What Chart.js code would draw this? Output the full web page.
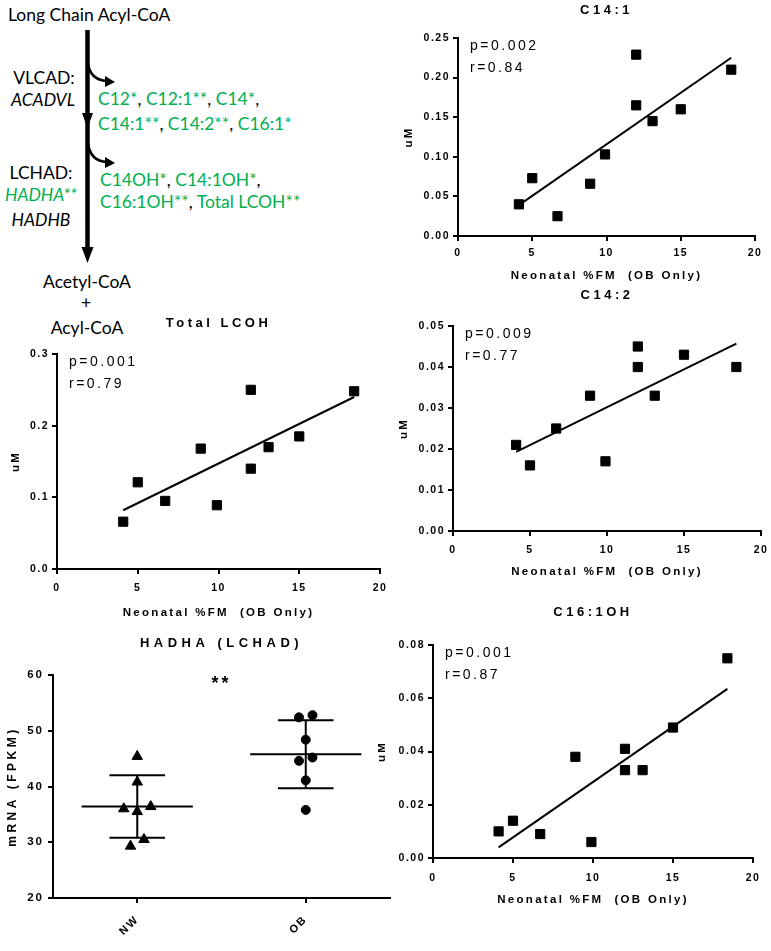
<!DOCTYPE html>
<html>
<head>
<meta charset="utf-8">
<script src="https://cdn.jsdelivr.net/npm/chart.js@4"></script>
<style>
  body { margin: 0; width: 771px; height: 951px; overflow: hidden; background: #fff; position: relative; font-family: Lato, sans-serif; }
  .t { position: absolute; font-size: 17.5px; line-height: 20px; white-space: nowrap; color: #000; }
  .c { text-align: center; }
  .i { font-style: italic; }
  .g { color: #00b050; }
  canvas { position: absolute; }
</style>
</head>
<body>

<svg width="200" height="300" style="position:absolute;left:0;top:0">
  <line x1="87.5" y1="30" x2="87.5" y2="250" stroke="#000" stroke-width="4.5"/>
  <polygon points="81.5,247 93.5,247 87.5,263" fill="#000"/>
  <polygon points="82,113 93,113 87.5,128" fill="#000"/>
  <path d="M88,63 Q90,80 107,81" fill="none" stroke="#000" stroke-width="2.5"/>
  <polygon points="105,76 115,82 105,87" fill="#000"/>
  <path d="M88,143 Q90,161 107,162" fill="none" stroke="#000" stroke-width="2.5"/>
  <polygon points="105,157 115,163 105,168" fill="#000"/>
</svg>

<div class="t" style="left:8px;top:5px">Long Chain Acyl-CoA</div>
<div class="t c" style="left:4px;width:80px;top:68px">VLCAD:</div>
<div class="t c i" style="left:3px;width:80px;top:90px">ACADVL</div>
<div class="t" style="left:98px;top:89px"><span class="g">C12*</span>, <span class="g">C12:1**</span>, <span class="g">C14*</span>,</div>
<div class="t" style="left:98px;top:114px"><span class="g">C14:1**</span>, <span class="g">C14:2**</span>, <span class="g">C16:1*</span></div>
<div class="t c" style="left:1px;width:80px;top:163px">LCHAD:</div>
<div class="t c i g" style="left:1px;width:80px;top:185px">HADHA**</div>
<div class="t c i" style="left:1px;width:80px;top:210px">HADHB</div>
<div class="t" style="left:100px;top:170px"><span class="g">C14OH*</span>, <span class="g">C14:1OH*</span>,</div>
<div class="t" style="left:100px;top:192px"><span class="g">C16:1OH**</span>, <span class="g">Total LCOH**</span></div>
<div class="t c" style="left:37px;width:100px;top:272px">Acetyl-CoA</div>
<div class="t c" style="left:36px;width:100px;top:293px">+</div>
<div class="t c" style="left:37px;width:100px;top:318px">Acyl-CoA</div>

<canvas id="c141"></canvas>
<canvas id="c142"></canvas>
<canvas id="lcoh"></canvas>
<canvas id="hadha"></canvas>
<canvas id="c161"></canvas>

<script>
// neonatal % fat mass (x) and metabolite levels (y), OB group only
const fatMass = [4.1, 5.0, 6.7, 8.9, 9.9, 12.0, 12.0, 13.1, 15.0, 18.4];
const c141 = [0.040, 0.073, 0.025, 0.066, 0.103, 0.229, 0.165, 0.145, 0.160, 0.210];
const totalLcoh = [0.066, 0.121, 0.095, 0.168, 0.089, 0.250, 0.140, 0.170, 0.185, 0.248];
const c142 = [0.021, 0.016, 0.025, 0.033, 0.017, 0.045, 0.040, 0.033, 0.043, 0.040];
const c161oh = [0.010, 0.014, 0.009, 0.038, 0.006, 0.041, 0.033, 0.033, 0.049, 0.075];

// regression lines as drawn: y at the two x ends
const fitX = [4.1, 18.4];
const c141Fit = [0.039, 0.225];
const lcohFit = [0.082, 0.240];
const c142Fit = [0.0193, 0.0457];
const c161ohFit = [0.004, 0.0635];

const c141Stats = ['p=0.002', 'r=0.84'];
const lcohStats = ['p=0.001', 'r=0.79'];
const c142Stats = ['p=0.009', 'r=0.77'];
const c161ohStats = ['p=0.001', 'r=0.87'];

const fmTicks = [0, 5, 10, 15, 20];
const c141Ticks = [0, 0.05, 0.10, 0.15, 0.20, 0.25];
const lcohTicks = [0, 0.1, 0.2, 0.3];
const c142Ticks = [0, 0.01, 0.02, 0.03, 0.04, 0.05];
const c161ohTicks = [0, 0.02, 0.04, 0.06, 0.08];

// HADHA mRNA
const groups = ['NW', 'OB'];
const hadhaNW = [45.4, 40.8, 36.0, 36.4, 35.5, 30.5, 29.3];
const hadhaOB = [52.4, 52.8, 48.4, 44.6, 45.2, 41.1, 35.8];
const hadhaMean = [36.4, 45.8];
const hadhaSD = [5.6, 6.1];
const hadhaTicks = [20, 30, 40, 50, 60];

const FONT = "'Liberation Sans', Arial, sans-serif";
const AXIS_H = 55, AXIS_W = 55;

// letter spacing for chart text (GraphPad look) + free text notes
function textPlugin(sp, notes) {
  return {
    id: 'gpText',
    beforeDraw(chart) {
      if (chart.$spaced) return;
      chart.$spaced = true;
      const ctx = chart.ctx;
      const wrap = (obj, key, px) => {
        const fn = obj[key];
        obj[key] = function (...a) {
          const old = ctx.letterSpacing;
          ctx.letterSpacing = px + 'px';
          const r = fn.apply(this, a);
          ctx.letterSpacing = old;
          return r;
        };
      };
      if (chart.titleBlock) wrap(chart.titleBlock, 'draw', sp.title);
      Object.values(chart.scales).forEach(s => {
        wrap(s, 'drawLabels', sp.ticks);
        wrap(s, 'drawTitle', sp.axis);
      });
    },
    afterDatasetsDraw(chart) {
      const ctx = chart.ctx, a = chart.chartArea;
      ctx.save();
      ctx.fillStyle = '#000';
      ctx.textBaseline = 'middle';
      notes.forEach(n => {
        ctx.font = n.font;
        ctx.letterSpacing = n.sp + 'px';
        ctx.textAlign = n.align || 'left';
        const x = n.vx !== undefined ? chart.scales.x.getPixelForValue(n.vx) : a.left + n.dx;
        const y = n.vy !== undefined ? chart.scales.y.getPixelForValue(n.vy) : a.top + n.dy;
        ctx.fillText(n.text, x, y);
      });
      ctx.restore();
    }
  };
}

function axis(o) {
  const horiz = o.pos === 'bottom';
  const tf = o.tickSize || 10.5, af = o.titleSize || 11.5;
  return {
    type: 'linear', position: o.pos,
    min: o.min !== undefined ? o.min : o.ticks[0],
    max: o.max !== undefined ? o.max : o.ticks[o.ticks.length - 1],
    afterBuildTicks: s => { s.ticks = o.ticks.map(v => ({ value: v })); },
    afterFit: s => { if (horiz) s.height = AXIS_H; else s.width = AXIS_W; },
    grid: { drawOnChartArea: false, drawTicks: true, tickLength: 5, color: '#000', lineWidth: 2 },
    border: { color: '#000', width: 2 },
    ticks: {
      color: '#000', autoSkip: false,
      font: { family: FONT, size: tf, weight: 'bold' },
      padding: o.tickPad,
      maxRotation: o.rot || 0, minRotation: o.rot || 0,
      callback: o.fmt
    },
    title: {
      display: !!o.title, text: o.title, color: '#000',
      font: { family: FONT, size: af, weight: 'bold' },
      padding: horiz ? { top: 0, bottom: o.titlePad } : { top: o.titlePad, bottom: 0 }
    }
  };
}

function place(id, lay) {
  const [pl, pt, pr, pb] = lay.plot;
  const left = pl - AXIS_W, top = lay.titleY - 10;
  const cv = document.getElementById(id);
  cv.width = pr + 15 - left;
  cv.height = pb + AXIS_H - top;
  cv.style.left = left + 'px';
  cv.style.top = top + 'px';
  return { cv, left, top };
}

function titleOpts(text, lay, top) {
  return {
    display: true, text, color: '#000', fullSize: false,
    font: { family: FONT, size: 13, weight: 'bold', lineHeight: 1.2 },
    padding: { top: 2.2, bottom: lay.plot[1] - top - 2.2 - 15.6 }
  };
}

function scatterPanel(id, title, lay, ys, fit, stats, yTicks, dec) {
  const { cv, left, top } = place(id, lay);
  const pts = fatMass.map((x, i) => ({ x, y: ys[i] }));
  const line = fitX.map((x, i) => ({ x, y: fit[i] }));
  return new Chart(cv, {
    type: 'scatter',
    data: {
      datasets: [
        { data: pts, pointStyle: 'rect', pointRadius: 6.5, backgroundColor: '#000', borderColor: '#000', borderWidth: 1 },
        { data: line, showLine: true, borderColor: '#000', borderWidth: 2, pointRadius: 0 }
      ]
    },
    options: {
      responsive: false, animation: false, events: [],
      layout: { padding: { right: 15 } },
      plugins: { legend: { display: false }, tooltip: { enabled: false }, title: titleOpts(title, lay, top) },
      scales: {
        x: axis({ pos: 'bottom', ticks: fmTicks, fmt: v => String(v), tickPad: lay.xTick - 5 - 6.3,
                  title: 'Neonatal %FM  (OB Only)', titlePad: AXIS_H - lay.xTitle - 6.9 }),
        y: axis({ pos: 'left', ticks: yTicks, fmt: v => v.toFixed(dec), tickPad: 3,
                  title: 'uM', titlePad: lay.yTitleX - left - 6.9 })
      }
    },
    plugins: [textPlugin({ title: 3.5, ticks: 1.5, axis: 2.3 }, [
      { text: stats[0], font: '14px ' + FONT, sp: 2.5, dx: 12, dy: 8 },
      { text: stats[1], font: '14px ' + FONT, sp: 2.5, dx: 12, dy: 30 }
    ])]
  });
}

scatterPanel('c141', 'C14:1', { plot: [458, 38, 755, 236], titleY: 10, xTick: 17, xTitle: 40, yTitleX: 409 },
  c141, c141Fit, c141Stats, c141Ticks, 2);
scatterPanel('lcoh', 'Total LCOH', { plot: [57, 354, 380, 569], titleY: 323, xTick: 19, xTitle: 44, yTitleX: 16 },
  totalLcoh, lcohFit, lcohStats, lcohTicks, 1);
scatterPanel('c142', 'C14:2', { plot: [453, 326, 761, 531], titleY: 295, xTick: 19, xTitle: 41, yTitleX: 404 },
  c142, c142Fit, c142Stats, c142Ticks, 2);
scatterPanel('c161', 'C16:1OH', { plot: [433, 645, 753, 858], titleY: 612, xTick: 20, xTitle: 42, yTitleX: 382 },
  c161oh, c161ohFit, c161ohStats, c161ohTicks, 2);

// spread points with close values sideways, like a GraphPad scatter dot plot
function spread(vals, near, step) {
  const idx = vals.map((v, i) => i).sort((a, b) => vals[a] - vals[b]);
  const off = vals.map(() => 0);
  let run = [idx[0]];
  const flush = () => {
    const n = run.length, slots = [];
    if (n % 2) { slots.push(0); for (let k = 1; slots.length < n; k++) slots.push(-k, k); }
    else { for (let k = 0.5; slots.length < n; k++) slots.push(-k, k); }
    run.forEach((i, j) => { off[i] = slots[j] * step; });
  };
  for (let j = 1; j < idx.length; j++) {
    if (vals[idx[j]] - vals[idx[j - 1]] < near) run.push(idx[j]);
    else { flush(); run = [idx[j]]; }
  }
  flush();
  return off;
}

(function () {
  const lay = { plot: [53, 675, 390, 898], titleY: 643, yTitleX: 13 };
  const { cv, left, top } = place('hadha', lay);
  const MEAN_W = 0.33, CAP_W = 0.165, STEP = 0.08;
  const seg = (x0, x1, y0, y1) => ({ data: [{ x: x0, y: y0 }, { x: x1, y: y1 }], showLine: true,
    borderColor: '#000', borderWidth: 2, pointRadius: 0 });
  const bars = [];
  hadhaMean.forEach((m, i) => {
    const c = i + 1, sd = hadhaSD[i];
    bars.push(seg(c - MEAN_W, c + MEAN_W, m, m));
    bars.push(seg(c - CAP_W, c + CAP_W, m + sd, m + sd));
    bars.push(seg(c - CAP_W, c + CAP_W, m - sd, m - sd));
    bars.push(seg(c, c, m - sd, m + sd));
  });
  const offNW = spread(hadhaNW, 1.8, STEP), offOB = spread(hadhaOB, 1.8, STEP);
  new Chart(cv, {
    type: 'scatter',
    data: {
      datasets: [
        { data: hadhaNW.map((y, i) => ({ x: 1 + offNW[i], y })), pointStyle: 'triangle', pointRadius: 6,
          backgroundColor: '#000', borderColor: '#000', borderWidth: 1 },
        { data: hadhaOB.map((y, i) => ({ x: 2 + offOB[i], y })), pointStyle: 'circle', pointRadius: 4.5,
          backgroundColor: '#000', borderColor: '#000', borderWidth: 1 },
        ...bars
      ]
    },
    options: {
      responsive: false, animation: false, events: [],
      layout: { padding: { right: 15 } },
      plugins: { legend: { display: false }, tooltip: { enabled: false },
        title: titleOpts('HADHA (LCHAD)', lay, top) },
      scales: {
        x: axis({ pos: 'bottom', ticks: [1, 2], min: 0.5, max: 2.5, fmt: v => groups[v - 1], tickPad: 10,
                  rot: 45, tickSize: 11 }),
        y: axis({ pos: 'left', ticks: hadhaTicks, fmt: v => String(v), tickPad: 4, tickSize: 11.5,
                  title: 'mRNA (FPKM)', titleSize: 12, titlePad: lay.yTitleX - left - 7.2 })
      }
    },
    plugins: [textPlugin({ title: 4.5, ticks: 2, axis: 3.5 }, [
      { text: '**', font: 'bold 18px ' + FONT, sp: 3, vx: 1.5, vy: 58.4, align: 'center' }
    ])]
  });
})();
</script>
</body>
</html>
